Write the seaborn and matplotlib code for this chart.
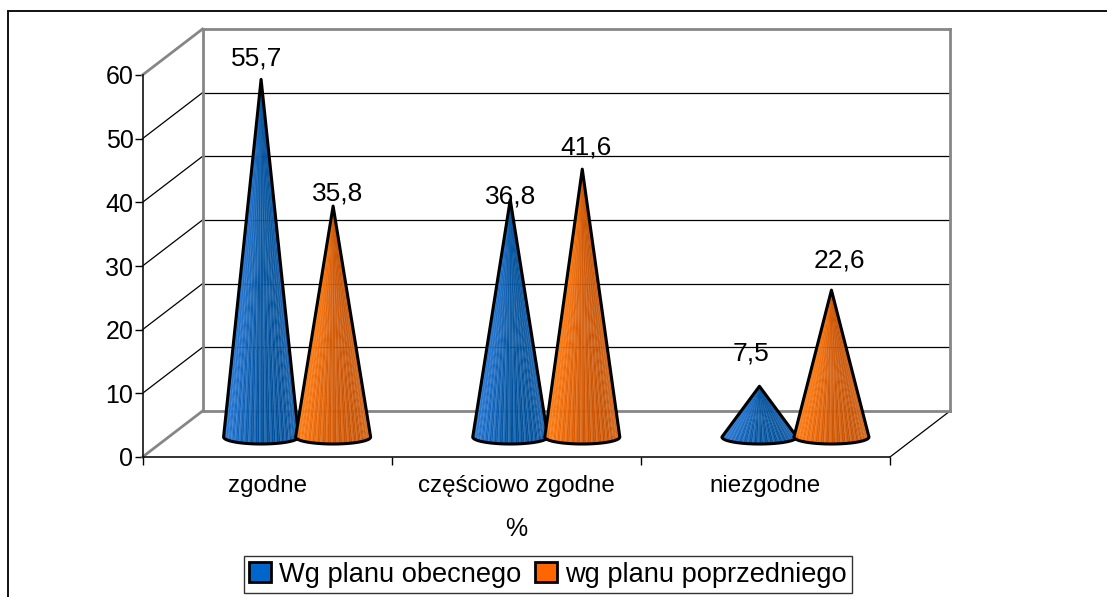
import numpy as np
import pandas as pd
import matplotlib
matplotlib.use("Agg")
import matplotlib.pyplot as plt
import seaborn as sns
from matplotlib.lines import Line2D
from matplotlib.patches import Patch, Polygon

categories = ["zgodne", "częściowo zgodne", "niezgodne"]
series_names = ["Wg planu obecnego", "wg planu poprzedniego"]
obecny = [55.7, 36.8, 7.5]
poprzedni = [35.8, 41.6, 22.6]
y_ticks = [0, 10, 20, 30, 40, 50, 60]

# label offsets from the cone tip, in pixels
offsets_obecny = [(-4, 21), (0, 3), (-8, 33)]
offsets_poprzedni = [(5, 13), (4, 22), (8, 30)]

W, H = 1107, 597
PX_X = 249.0  # pixels per category
PX_Y = 382 / 60  # pixels per percent

sns.set_style("white")
plt.rcParams["font.family"] = ["Liberation Sans", "DejaVu Sans"]
plt.rcParams["text.color"] = "black"
plt.rcParams["xtick.color"] = "black"
plt.rcParams["ytick.color"] = "black"
plt.rcParams["axes.labelcolor"] = "black"

df = pd.DataFrame({
    "kategoria": categories * 2,
    "seria": [series_names[0]] * 3 + [series_names[1]] * 3,
    "procent": obecny + poprzedni,
})

fig = plt.figure(figsize=(W / 100, H / 100), dpi=100, facecolor="white")
ax = fig.add_axes([142.5 / W, 1 - 457 / H, 747.5 / W, 382 / H])
ax.patch.set_alpha(0)

# bars give the positions and heights of the cones, then get hidden
sns.barplot(data=df, x="kategoria", y="procent", hue="seria", order=categories,
            hue_order=series_names, width=0.578, gap=0, legend=False, ax=ax, errorbar=None)
ax.set_xlim(-0.5, 2.5)
ax.set_ylim(0, 60)

dep_x, dep_y = 60 / PX_X, 46 / PX_Y
GREY = "#868686"
WALL_LW = 2.0


def wall_line(xs, ys, color="black", lw=0.9, z=1):
    ax.plot(xs, ys, color=color, lw=lw, clip_on=False, zorder=z, solid_capstyle="projecting")


# side wall and back wall lines
for t in y_ticks[1:-1]:
    wall_line([-0.5, -0.5 + dep_x], [t, t + dep_y])
    wall_line([-0.5 + dep_x, 2.5 + dep_x], [t + dep_y, t + dep_y])
wall_line([2.5, 2.5 + dep_x], [0, dep_y])
wall_line([-0.5, -0.5 + dep_x], [0, dep_y], GREY, WALL_LW, 2)
wall_line([-0.5, -0.5 + dep_x], [60, 60 + dep_y], GREY, WALL_LW, 2)
wall_line([-0.5 + dep_x, -0.5 + dep_x], [dep_y, 60 + dep_y], GREY, WALL_LW, 2)
wall_line([-0.5 + dep_x, 2.5 + dep_x], [60 + dep_y, 60 + dep_y], GREY, WALL_LW, 2)
wall_line([2.5 + dep_x, 2.5 + dep_x], [dep_y, 60 + dep_y], GREY, WALL_LW, 2)
wall_line([-0.5 + dep_x, 2.5 + dep_x], [dep_y, dep_y], GREY, WALL_LW, 2)


def draw_cone(cx, value, stops, z):
    shades = sns.blend_palette(stops, 64)
    a = 37.5 / PX_X
    b = 7 / PX_Y
    base = 20 / PX_Y
    t = np.linspace(np.pi, 2 * np.pi, 65)
    arc_x = cx + a * np.cos(t)
    arc_y = base + b * np.sin(t)
    tip = (cx, base + value + 3 / PX_Y)
    for i, col in enumerate(shades):
        # thin pale streaks running up to the tip
        if i % 3 == 1:
            col = tuple(c + (1 - c) * 0.16 for c in col)
        ax.fill([arc_x[i], arc_x[i + 1], tip[0]], [arc_y[i], arc_y[i + 1], tip[1]],
                color=col, lw=0.25, clip_on=False, zorder=z)
    outline = list(zip(arc_x, arc_y)) + [tip]
    ax.add_patch(Polygon(outline, closed=True, fill=False, edgecolor="black", lw=2.2,
                         joinstyle="round", clip_on=False, zorder=z + 0.5))
    return tip


blue_stops = ["#2278dc", "#1468c4", "#00529f", "#00509c", "#1a68b8"]
orange_stops = ["#ff7c0c", "#f56c02", "#d25600", "#c85200", "#d86a1c"]
styles = [(blue_stops, offsets_obecny), (orange_stops, offsets_poprzedni)]

for k, (container, (stops, offs)) in enumerate(zip(ax.containers, styles)):
    for j, bar in enumerate(container):
        cx = bar.get_x() + bar.get_width() / 2 + 30 / PX_X
        val = bar.get_height()
        bar.set_visible(False)
        tip = draw_cone(cx, val, stops, 5 + k + j * 2)
        ax.annotate(f"{val:.1f}".replace(".", ","), xy=tip, xytext=offs[j],
                    textcoords="offset pixels", ha="center", va="center",
                    fontsize=19, color="black", zorder=20, annotation_clip=False)

sns.despine(ax=ax)
for side in ["left", "bottom"]:
    ax.spines[side].set_linewidth(1.2)
    ax.spines[side].set_color("#111111")
    ax.spines[side].set_zorder(3)

ax.set_yticks(y_ticks)
ax.tick_params(axis="y", which="major", left=True, length=5.5, width=1, labelsize=18, pad=1)
ax.set_xticks(range(3), categories)
ax.tick_params(axis="x", which="major", bottom=False, labelsize=17.4, pad=9.5)
ax.set_xticks([-0.5, 0.5, 1.5, 2.5], minor=True)
ax.tick_params(axis="x", which="minor", bottom=True, length=5.5, width=1)
ax.set_ylabel("")
ax.set_xlabel("%", fontsize=18, labelpad=14)

handles = [Patch(facecolor="#0066cc", edgecolor="black", lw=2),
           Patch(facecolor="#ff6600", edgecolor="black", lw=2)]
leg = fig.legend(handles, series_names, loc="center", bbox_to_anchor=(548 / W, 1 - 574.5 / H),
                 ncol=2, fontsize=19.6, frameon=True, fancybox=False, edgecolor="#333333",
                 framealpha=1, handlelength=0.8, handleheight=0.8, handletextpad=0.3,
                 columnspacing=0.5, borderpad=0.2, borderaxespad=0)
leg.get_frame().set_linewidth(1)

# outer chart frame, only left and top show in the crop
fig.add_artist(Line2D([8 / W, 8 / W, 1], [0, 1 - 11 / H, 1 - 11 / H], transform=fig.transFigure,
                      color="#111111", lw=1.4, solid_joinstyle="miter"))

fig.savefig("out.png", dpi=100)
plt.close(fig)
